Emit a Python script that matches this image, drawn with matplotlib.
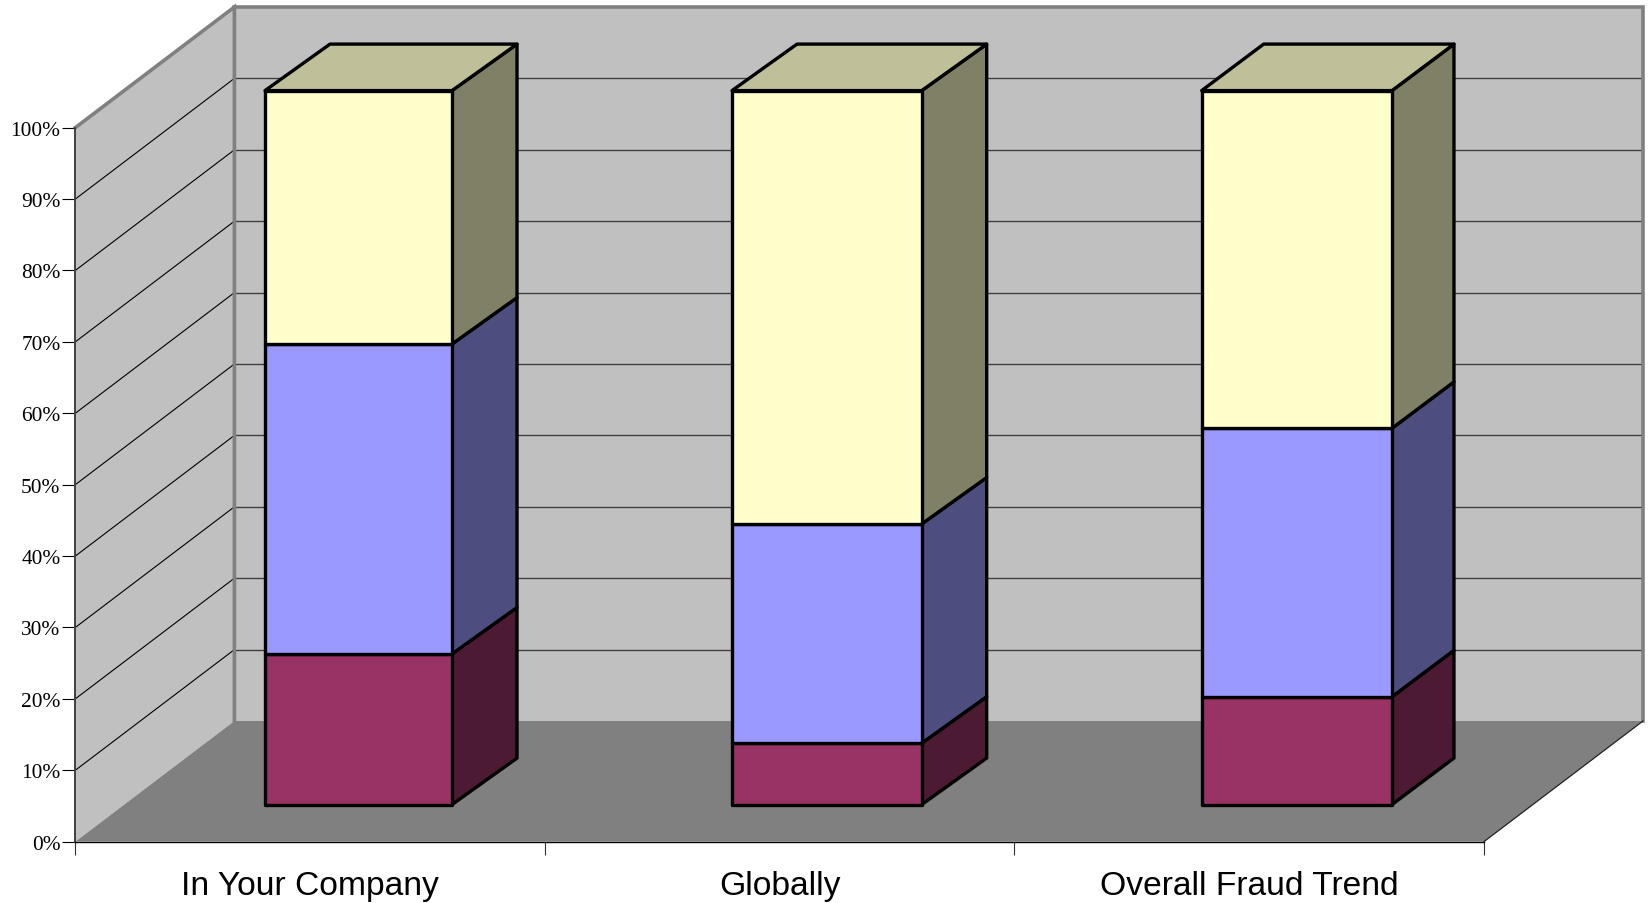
import matplotlib
matplotlib.use("Agg")
import matplotlib.pyplot as plt
from matplotlib.patches import Polygon

# Share of responses per category, bottom segment first (percent)
categories = ["In Your Company", "Globally", "Overall Fraud Trend"]
maroon_values = [21.1, 8.6, 15.1]
blue_values = [43.4, 30.7, 37.6]
yellow_values = [35.5, 60.7, 47.3]
percent_ticks = list(range(0, 101, 10))

# Per segment colours: front, side, top
MAROON = ("#993366", "#4C1A33", "#BFBF99")
BLUE = ("#9999FF", "#4D4D80", "#BFBF99")
YELLOW = ("#FFFFCC", "#808066", "#BFBF99")

W, H = 1649, 904
AX_L, AX_R, AX_T, AX_B = 75.4, 1484.0, 128.6, 842.6
PX_X = (AX_R - AX_L) / 3       # pixels per category
PX_Y = (AX_B - AX_T) / 100     # pixels per percent


def dx(px):
    return px / PX_X


def dy(px):
    return px / PX_Y


# Oblique projection offsets, in pixels
WALL_DX, WALL_DY = 159.0, 120.6
BAR_SHIFT_X, BAR_SHIFT_Y = 47.0, 37.0
BAR_DY = 46.5

# Bar footprint in category units, before the oblique shift, and bar depth in pixels
bar_edges = [(0.3037, 0.7020), (1.2983, 1.7023), (2.2986, 2.7039)]
bar_depths = [65.0, 65.0, 62.0]

plt.rcParams["font.family"] = ["Liberation Sans", "DejaVu Sans"]
fig = plt.figure(figsize=(W / 100, H / 100), dpi=100, facecolor="white")
ax = fig.add_axes([AX_L / W, 1 - AX_B / H, (AX_R - AX_L) / W, (AX_B - AX_T) / H])
ax.set_xlim(0, 3)
ax.set_ylim(0, 100)
ax.patch.set_visible(False)

wx, wy = dx(WALL_DX), dy(WALL_DY)


def poly(points, color, zorder, edge="none", lw=0):
    ax.add_patch(Polygon(points, closed=True, facecolor=color, edgecolor=edge,
                         linewidth=lw, zorder=zorder, clip_on=False,
                         joinstyle="round"))


# Walls and floor
poly([(0, 0), (wx, wy), (wx, 100 + wy), (0, 100)], "#C0C0C0", 1)
poly([(wx, wy), (3 + wx, wy), (3 + wx, 100 + wy), (wx, 100 + wy)], "#C0C0C0", 1)
poly([(0, 0), (3, 0), (3 + wx, wy), (wx, wy)], "#808080", 1.5)

# Gridlines on both walls
for v in percent_ticks[1:-1]:
    ax.plot([wx, 3 + wx], [v + wy, v + wy], color="#3C3C3C", lw=0.95,
            clip_on=False, zorder=2)
    ax.plot([0, wx], [v, v + wy], color="black", lw=0.8,
            clip_on=False, zorder=2)

# Wall outline
border = dict(color="#808080", lw=2.6, clip_on=False, zorder=2.5,
              solid_joinstyle="miter")
ax.plot([0, wx, wx], [100, 100 + wy, wy], **border)
ax.plot([wx, 3 + wx, 3 + wx], [100 + wy, 100 + wy, wy], **border)
ax.plot([3, 3 + wx], [0, wy], color="#202020", lw=0.9, clip_on=False, zorder=2.5)

# Stacked bars
sx, sy = dx(BAR_SHIFT_X), dy(BAR_SHIFT_Y)
by = dy(BAR_DY)
LW = 2.4
for (left, right), depth, values in zip(bar_edges, bar_depths,
                                        zip(maroon_values, blue_values, yellow_values)):
    x0, x1 = left + sx, right + sx
    bx = dx(depth)
    base = sy
    for value, (front, side, top) in zip(values, (MAROON, BLUE, YELLOW)):
        y0, y1 = base, base + value
        poly([(x1, y0), (x1 + bx, y0 + by), (x1 + bx, y1 + by), (x1, y1)],
             side, 3, "black", LW)
        poly([(x0, y0), (x1, y0), (x1, y1), (x0, y1)], front, 4, "black", LW)
        base = y1
    poly([(x0, base), (x1, base), (x1 + bx, base + by), (x0 + bx, base + by)],
         YELLOW[2], 4, "black", LW)

# Axes, ticks and labels
for name in ("top", "right"):
    ax.spines[name].set_visible(False)
ax.spines["left"].set_color("#404040")
ax.spines["left"].set_linewidth(1.4)
ax.spines["bottom"].set_color("black")
ax.spines["bottom"].set_linewidth(1.0)
for spine in ax.spines.values():
    spine.set_zorder(2.6)

ax.set_yticks(percent_ticks)
ax.set_yticklabels([f"{v}%" for v in percent_ticks],
                   family="Liberation Serif", fontsize=15.4, color="black")
ax.tick_params(axis="y", length=9.2, width=0.8, pad=1.5, color="black")
ax.set_xticks([0, 1, 2, 3])
ax.set_xticklabels([])
ax.tick_params(axis="x", which="major", length=9.2, width=0.8, color="#303030")
ax.set_xticks([0.5, 1.5, 2.5], minor=True)
ax.set_xticklabels(categories, minor=True, fontsize=24.2, color="black")
ax.tick_params(axis="x", which="minor", length=0, pad=20.5)

fig.savefig("out.png", dpi=100, facecolor="white")
